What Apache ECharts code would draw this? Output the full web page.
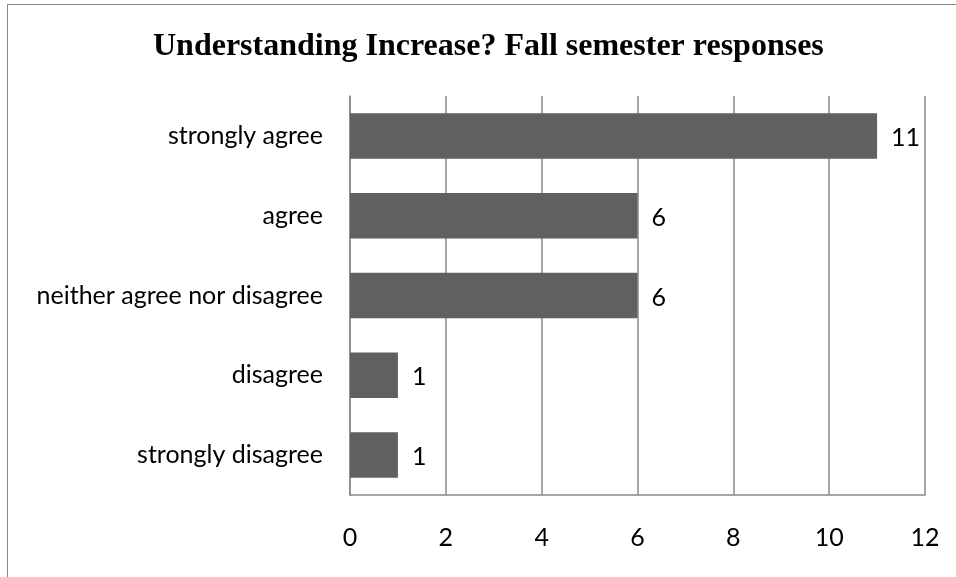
<!DOCTYPE html>
<html><head><meta charset="utf-8">
<script src="https://cdn.jsdelivr.net/npm/echarts@6/dist/echarts.min.js"></script>
<style>html,body{margin:0;padding:0;background:#fff}#c{width:956px;height:577px;position:relative}
#frame{position:absolute;left:7px;top:4px;width:960px;height:600px;border:1.5px solid #888;box-sizing:border-box;pointer-events:none}</style>
</head><body><div id="c"></div><div id="frame"></div>
<script>
const titleText = "Understanding Increase? Fall semester responses";
const categories = ["strongly disagree", "disagree", "neither agree nor disagree", "agree", "strongly agree"];
const values = [1, 1, 6, 6, 11];
const axisTicks = [0, 2, 4, 6, 8, 10, 12];

const chart = echarts.init(document.getElementById('c'), null, {renderer: 'canvas'});
chart.setOption({
  animation: false,
  backgroundColor: '#fff',
  title: {text: titleText, left: 148, top: 26,
    textStyle: {fontFamily: 'Liberation Serif', fontWeight: 'bold', fontSize: 32, color: '#000'}},
  grid: {left: 350, right: 31, top: 96, bottom: 82, containLabel: false},
  xAxis: {type: 'value', min: axisTicks[0], max: axisTicks[axisTicks.length-1], interval: 2,
    axisLine: {show: true, lineStyle: {color: '#888', width: 1.5}},
    axisTick: {show: false},
    splitLine: {show: true, lineStyle: {color: '#888', width: 1.5}},
    axisLabel: {fontFamily: 'Lato', fontSize: 25, color: '#000', margin: 30}},
  yAxis: {type: 'category', data: categories,
    axisLine: {show: true, lineStyle: {color: '#888', width: 1.5}},
    axisTick: {show: false},
    axisLabel: {fontFamily: 'Lato', fontSize: 25, color: '#000', margin: 27}},
  series: [{type: 'bar', data: values, barCategoryGap: '43%',
    itemStyle: {color: '#606060'},
    label: {show: true, position: 'right', distance: 14, offset: [0, 2], fontFamily: 'Lato', fontSize: 25, color: '#000'}}]
});
</script></body></html>
